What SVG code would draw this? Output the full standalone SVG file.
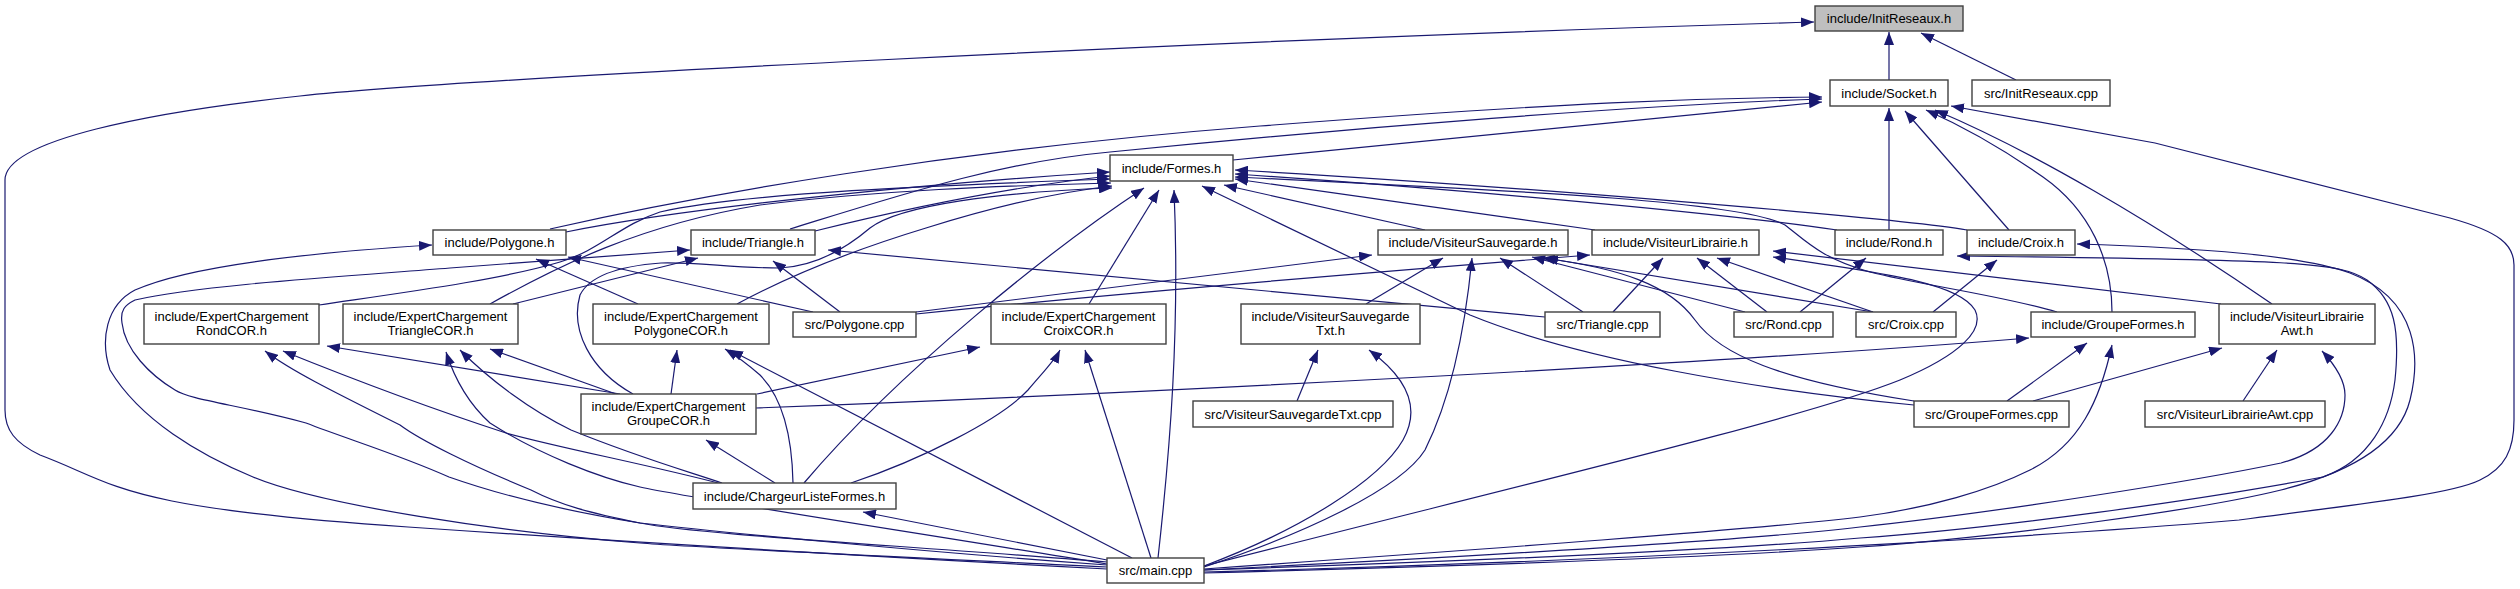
<svg xmlns="http://www.w3.org/2000/svg" width="2520" height="589" viewBox="0 0 2520 589">
<style>
.e{fill:none;stroke:#191970;stroke-width:1.2;marker-end:url(#a)}
.n rect{fill:#fff;stroke:#404040;stroke-width:1.4}
#n_init rect{fill:#bfbfbf}
text{font-family:"Liberation Sans",Arial,sans-serif;font-size:13px;text-anchor:middle;fill:#000}
</style>
<defs>
<marker id="a" markerUnits="userSpaceOnUse" markerWidth="13" markerHeight="10" refX="13" refY="5" orient="auto">
<path d="M0,0 L13,5 L0,10 z" fill="#191970"/>
</marker>
</defs>
<rect width="2520" height="589" fill="#fff"/>
<g id="edges">
<path class="e" d="M1889,80 L1889,32"/>
<path class="e" d="M2016,80 L1921,33"/>
<path class="e" d="M1107,569 C900,558 700,547 408,527 C116,507 120,485 40,455 C15,443 5,430 5,410 L5,180 C5,140 150,112 300,96 C450,80 1200,40 1814,22"/>
<path class="e" d="M1233,160 L1822,102"/>
<path class="e" d="M550,229 C700,195 950,150 1260,126 S1700,98 1822,97"/>
<path class="e" d="M790,229 C900,195 1000,162 1110,152 C1350,128 1650,104 1822,99"/>
<path class="e" d="M1889,230 L1889,108"/>
<path class="e" d="M2009,230 L1905,111"/>
<path class="e" d="M2112,312 C2112,260 2090,210 2043,177 C1996,144 1960,125 1926,110"/>
<path class="e" d="M2272,304 C2150,220 2030,150 1935,110"/>
<path class="e" d="M1204,572 C1600,562 2000,540 2239,520 C2350,505 2450,495 2480,480 C2505,468 2514,450 2514,420 L2514,265 C2514,245 2500,232 2450,218 L2155,143 L1951,106"/>
<path class="e" d="M566,232 C700,205 950,182 1110,172"/>
<path class="e" d="M815,231 C900,210 1000,188 1110,176"/>
<path class="e" d="M319,305 C400,293 500,280 560,262 C600,250 620,225 660,212 C750,192 950,185 1110,179"/>
<path class="e" d="M490,304 C560,265 640,225 760,205 C880,190 1000,186 1111,183"/>
<path class="e" d="M737,304 C800,270 870,245 926,228 C990,208 1050,193 1112,186"/>
<path class="e" d="M633,394 C590,370 570,330 580,295 C590,275 620,266 661,263 C700,262 730,268 780,268 C820,266 850,245 870,228 C900,205 1000,192 1112,188"/>
<path class="e" d="M804,483 C900,370 1050,250 1144,188"/>
<path class="e" d="M1089,304 L1159,190"/>
<path class="e" d="M1158,558 C1170,450 1180,330 1174,190"/>
<path class="e" d="M1914,405 C1760,390 1580,360 1470,315 L1202,186"/>
<path class="e" d="M1425,230 L1224,185"/>
<path class="e" d="M1595,230 L1235,179"/>
<path class="e" d="M1837,230 C1700,210 1400,185 1235,174"/>
<path class="e" d="M1967,230 C1900,218 1500,185 1235,170"/>
<path class="e" d="M2057,312 C2000,295 1920,285 1870,272 C1820,258 1805,240 1785,225 C1740,200 1500,190 1235,177"/>
<path class="e" d="M638,304 L536,259"/>
<path class="e" d="M813,312 L568,257"/>
<path class="e" d="M1107,567 C900,557 700,548 640,543 C500,532 320,505 253,477 C200,455 140,420 110,370 C100,340 106,305 135,290 C180,270 270,255 432,245"/>
<path class="e" d="M1107,565 C900,550 700,530 640,523 C560,510 500,495 449,477 C400,455 350,440 306,423 C240,405 190,400 175,390 C150,375 125,350 122,323 C120,310 125,305 135,300 C200,285 350,276 450,268 L690,250"/>
<path class="e" d="M513,304 L698,258"/>
<path class="e" d="M840,312 L773,261"/>
<path class="e" d="M1545,317 L828,250"/>
<path class="e" d="M916,312 L1372,255"/>
<path class="e" d="M1366,304 L1443,258"/>
<path class="e" d="M1204,567 C1300,535 1400,490 1425,450 C1450,400 1465,330 1472,258"/>
<path class="e" d="M1583,312 L1500,258"/>
<path class="e" d="M1745,312 L1532,257"/>
<path class="e" d="M1914,401 C1780,380 1720,355 1695,320 C1670,285 1620,268 1542,258"/>
<path class="e" d="M1873,312 L1545,258"/>
<path class="e" d="M916,314 C1100,295 1400,270 1590,255"/>
<path class="e" d="M1613,312 L1663,258"/>
<path class="e" d="M1767,312 L1697,258"/>
<path class="e" d="M1873,312 L1717,258"/>
<path class="e" d="M2221,304 L1773,251"/>
<path class="e" d="M1204,566 C1500,490 1800,420 1900,380 C1960,355 1985,330 1975,310 C1960,285 1900,275 1773,257"/>
<path class="e" d="M1800,312 L1866,258"/>
<path class="e" d="M1204,570 C1500,560 1750,548 1860,538 C2000,528 2200,500 2323,477 C2370,460 2390,420 2395,380 C2400,330 2395,300 2367,280 C2340,262 2300,260 1957,256"/>
<path class="e" d="M1933,312 L1997,260"/>
<path class="e" d="M1204,573 C1500,565 1750,555 1860,547 C2000,537 2200,510 2281,490 C2360,470 2400,440 2410,400 C2420,360 2420,300 2350,273 C2300,255 2200,248 2077,244"/>
<path class="e" d="M2007,401 L2087,343"/>
<path class="e" d="M1204,569 C1500,548 1750,530 1860,517 C1930,508 1990,490 2030,470 C2080,445 2100,400 2112,345"/>
<path class="e" d="M756,408 C1100,395 1700,365 2029,338"/>
<path class="e" d="M2243,401 L2277,350"/>
<path class="e" d="M2033,401 L2222,348"/>
<path class="e" d="M1204,570 C1500,555 1750,540 1860,527 C2000,512 2200,480 2281,463 C2330,450 2345,420 2345,395 C2345,380 2335,365 2322,351"/>
<path class="e" d="M1297,401 L1318,350"/>
<path class="e" d="M1204,566 C1300,530 1380,480 1403,440 C1420,410 1410,380 1369,350"/>
<path class="e" d="M851,483 C920,460 1000,420 1028,390 C1045,370 1055,360 1060,350"/>
<path class="e" d="M1151,558 L1085,350"/>
<path class="e" d="M757,394 L980,347"/>
<path class="e" d="M671,394 L677,350"/>
<path class="e" d="M793,483 C792,430 780,395 760,375 C745,362 735,355 725,349"/>
<path class="e" d="M1132,558 L730,350"/>
<path class="e" d="M616,394 L490,349"/>
<path class="e" d="M722,483 C690,472 640,458 571,430 C530,410 490,380 460,350"/>
<path class="e" d="M1107,564 C900,530 700,500 640,487 C600,478 540,455 490,423 C470,405 455,380 446,352"/>
<path class="e" d="M620,394 L327,346"/>
<path class="e" d="M722,484 C650,465 560,448 506,433 C420,405 330,370 283,351"/>
<path class="e" d="M1107,562 C900,545 700,535 640,523 C590,513 560,505 531,490 C470,465 420,440 400,425 C330,390 290,370 265,351"/>
<path class="e" d="M1107,560 L863,512"/>
<path class="e" d="M775,483 L706,440"/>
</g>
<g id="n_init" class="n"><rect x="1815" y="6" width="148" height="25"/><text x="1889" y="23">include/InitReseaux.h</text></g>
<g id="n_socket" class="n"><rect x="1830" y="80" width="118" height="26"/><text x="1889" y="98">include/Socket.h</text></g>
<g id="n_initcpp" class="n"><rect x="1972" y="80" width="138" height="26"/><text x="2041" y="98">src/InitReseaux.cpp</text></g>
<g id="n_formes" class="n"><rect x="1110" y="155" width="123" height="26"/><text x="1171.5" y="173">include/Formes.h</text></g>
<g id="n_polyh" class="n"><rect x="433" y="230" width="133" height="25"/><text x="499.5" y="247">include/Polygone.h</text></g>
<g id="n_trih" class="n"><rect x="691" y="230" width="124" height="25"/><text x="753" y="247">include/Triangle.h</text></g>
<g id="n_vsh" class="n"><rect x="1378" y="230" width="190" height="25"/><text x="1473" y="247">include/VisiteurSauvegarde.h</text></g>
<g id="n_vlh" class="n"><rect x="1592" y="230" width="167" height="25"/><text x="1675.5" y="247">include/VisiteurLibrairie.h</text></g>
<g id="n_rondh" class="n"><rect x="1835" y="230" width="108" height="25"/><text x="1889" y="247">include/Rond.h</text></g>
<g id="n_croixh" class="n"><rect x="1967" y="230" width="108" height="25"/><text x="2021" y="247">include/Croix.h</text></g>
<g id="n_ecrond" class="n"><rect x="144" y="304" width="175" height="40"/><text x="231.5" y="321">include/ExpertChargement</text><text x="231.5" y="335">RondCOR.h</text></g>
<g id="n_ectri" class="n"><rect x="343" y="304" width="175" height="40"/><text x="430.5" y="321">include/ExpertChargement</text><text x="430.5" y="335">TriangleCOR.h</text></g>
<g id="n_ecpoly" class="n"><rect x="593" y="304" width="176" height="40"/><text x="681" y="321">include/ExpertChargement</text><text x="681" y="335">PolygoneCOR.h</text></g>
<g id="n_polycpp" class="n"><rect x="793" y="312" width="123" height="25"/><text x="854.5" y="329">src/Polygone.cpp</text></g>
<g id="n_eccroix" class="n"><rect x="991" y="304" width="175" height="40"/><text x="1078.5" y="321">include/ExpertChargement</text><text x="1078.5" y="335">CroixCOR.h</text></g>
<g id="n_vstxth" class="n"><rect x="1241" y="304" width="179" height="40"/><text x="1330.5" y="321">include/VisiteurSauvegarde</text><text x="1330.5" y="335">Txt.h</text></g>
<g id="n_tricpp" class="n"><rect x="1545" y="312" width="115" height="25"/><text x="1602.5" y="329">src/Triangle.cpp</text></g>
<g id="n_rondcpp" class="n"><rect x="1734" y="312" width="99" height="25"/><text x="1783.5" y="329">src/Rond.cpp</text></g>
<g id="n_croixcpp" class="n"><rect x="1856" y="312" width="100" height="25"/><text x="1906" y="329">src/Croix.cpp</text></g>
<g id="n_gfh" class="n"><rect x="2031" y="312" width="164" height="25"/><text x="2113" y="329">include/GroupeFormes.h</text></g>
<g id="n_vlawth" class="n"><rect x="2219" y="304" width="156" height="40"/><text x="2297" y="321">include/VisiteurLibrairie</text><text x="2297" y="335">Awt.h</text></g>
<g id="n_ecgroupe" class="n"><rect x="581" y="394" width="175" height="40"/><text x="668.5" y="411">include/ExpertChargement</text><text x="668.5" y="425">GroupeCOR.h</text></g>
<g id="n_vstxtcpp" class="n"><rect x="1193" y="401" width="200" height="26"/><text x="1293" y="419">src/VisiteurSauvegardeTxt.cpp</text></g>
<g id="n_gfcpp" class="n"><rect x="1914" y="401" width="155" height="26"/><text x="1991.5" y="419">src/GroupeFormes.cpp</text></g>
<g id="n_vlawtcpp" class="n"><rect x="2145" y="401" width="180" height="26"/><text x="2235" y="419">src/VisiteurLibrairieAwt.cpp</text></g>
<g id="n_chargeur" class="n"><rect x="693" y="483" width="203" height="26"/><text x="794.5" y="501">include/ChargeurListeFormes.h</text></g>
<g id="n_main" class="n"><rect x="1107" y="558" width="97" height="25"/><text x="1155.5" y="575">src/main.cpp</text></g>
</svg>
